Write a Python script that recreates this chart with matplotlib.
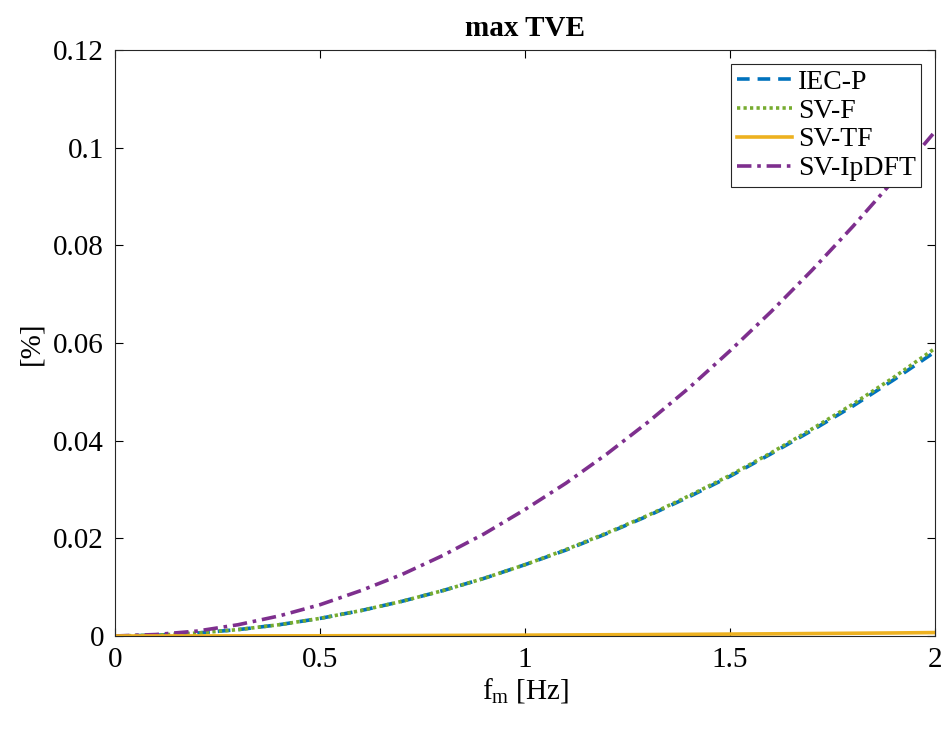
import matplotlib.pyplot as plt

# frequency of modulation [Hz]
fm = [0.0, 0.1, 0.2, 0.3, 0.4, 0.5, 0.6, 0.7, 0.8, 0.9, 1.0,
      1.1, 1.2, 1.3, 1.4, 1.5, 1.6, 1.7, 1.8, 1.9, 2.0]

# max TVE [%]
iec_p = [0.0, 0.00015, 0.0006, 0.0013, 0.0023, 0.0036, 0.0052, 0.0071, 0.0093, 0.0118, 0.0146,
         0.0176, 0.0210, 0.0246, 0.0285, 0.0327, 0.0373, 0.0421, 0.0471, 0.0525, 0.0582]
sv_f = [0.0, 0.00015, 0.0006, 0.0013, 0.0023, 0.0036, 0.0052, 0.0071, 0.0093, 0.0118, 0.0146,
        0.0177, 0.0211, 0.0247, 0.0287, 0.0329, 0.0375, 0.0424, 0.0475, 0.0530, 0.0589]
sv_tf = [0.0, 0.0, 0.00001, 0.00002, 0.00003, 0.00004, 0.00006, 0.00008, 0.00011, 0.00014, 0.00017,
         0.00021, 0.00025, 0.00029, 0.00034, 0.00039, 0.00044, 0.0005, 0.00056, 0.00062, 0.0007]
sv_ipdft = [0.0, 0.0003, 0.0010, 0.0023, 0.0041, 0.0064, 0.0093, 0.0126, 0.0165, 0.0209, 0.0259,
            0.0313, 0.0373, 0.0438, 0.0508, 0.0584, 0.0664, 0.0749, 0.0839, 0.0934, 0.1033]

plt.rcParams["font.family"] = ["Liberation Serif", "DejaVu Serif"]
plt.rcParams["mathtext.fontset"] = "custom"
plt.rcParams["mathtext.rm"] = "Liberation Serif"
plt.rcParams["mathtext.it"] = "Liberation Serif"

fig = plt.figure(figsize=(9.48, 7.29), dpi=100)
ax = fig.add_axes([0.1213, 0.1276, 0.8650, 0.8038])

lw = 2.6
ax.plot(fm, iec_p, linestyle=(0, (3.5, 2.2)), color="#0072BD", lw=lw, label="IEC-P")
ax.plot(fm, sv_f, linestyle=(0, (0.9, 0.9)), color="#77AC30", lw=lw, label="SV-F")
ax.plot(fm, sv_ipdft, linestyle=(0, (4, 1.6, 1, 1.6)), color="#7E2F8E", lw=lw, label="SV-IpDFT")
ax.plot(fm, sv_tf, linestyle="-", color="#EDB120", lw=lw, label="SV-TF")

ax.set_xlim(0, 2)
ax.set_ylim(0, 0.12)
ax.set_xticks([0, 0.5, 1, 1.5, 2])
ax.set_xticklabels(["0", "0.5", "1", "1.5", "2"])
ax.set_yticks([0, 0.02, 0.04, 0.06, 0.08, 0.1, 0.12])
ax.set_yticklabels(["0", "0.02", "0.04", "0.06", "0.08", "0.1", "0.12"])
ax.tick_params(direction="in", top=True, right=True, labelsize=21, length=6, width=0.8, pad=8)
for s in ax.spines.values():
    s.set_linewidth(0.8)
    s.set_color("#262626")

ax.set_xlabel(r"f$_{\mathrm{m}}$ [Hz]", fontsize=21, labelpad=2)
ax.set_ylabel("[%]", fontsize=21, labelpad=6)
ax.set_title("max TVE", fontsize=21, fontweight="bold", pad=10)

handles, labels = ax.get_legend_handles_labels()
order = [0, 1, 3, 2]
leg = ax.legend([handles[i] for i in order], [labels[i] for i in order],
                loc="upper right", fontsize=20, fancybox=False, framealpha=1,
                edgecolor="#262626", borderpad=0.2, labelspacing=0.12,
                handlelength=2.0, handletextpad=0.2, borderaxespad=0.5)
leg.get_frame().set_linewidth(0.8)

plt.savefig("out.png", dpi=100)
